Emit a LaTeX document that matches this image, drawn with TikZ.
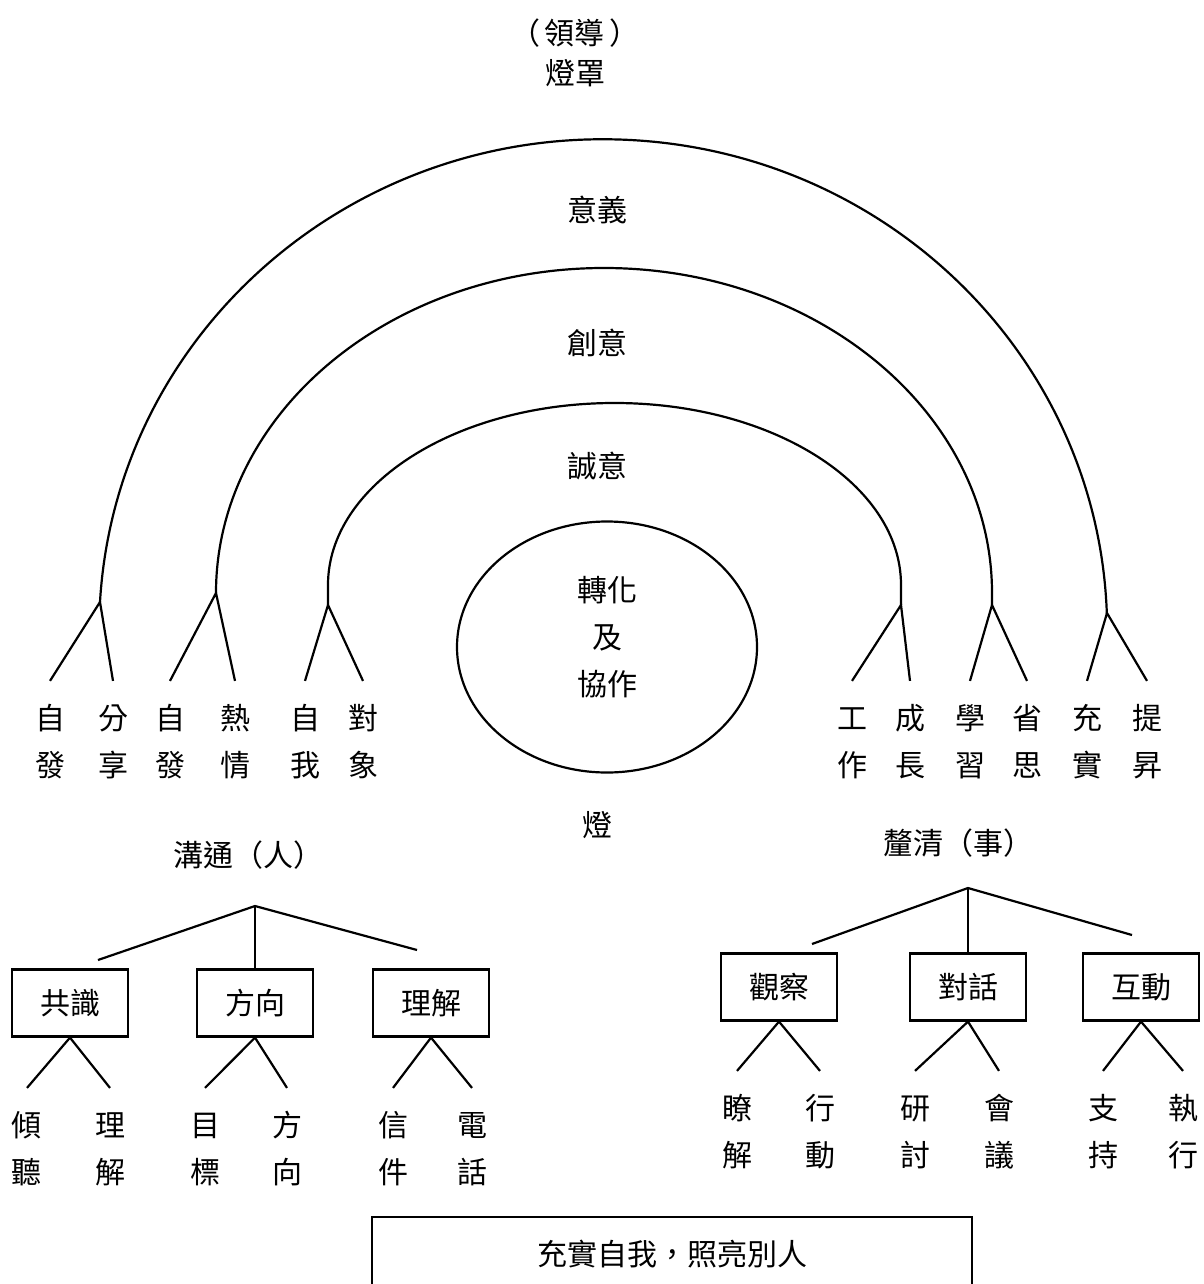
\documentclass[tikz,border=0pt]{standalone}
\usepackage{fontspec}
\setmainfont{Noto Sans CJK TC}
\usetikzlibrary{shapes.geometric}

\newcommand{\duo}[2]{\strut#1\\\strut#2}

\begin{document}
\begin{tikzpicture}[x=1pt,y=-1pt,
  font=\fontsize{30}{47}\selectfont,
  line width=2.2pt,
  word/.style={inner sep=0pt},
  chars/.style={align=center,inner xsep=0pt,inner ysep=14.5pt},
  tag/.style={rectangle,draw,minimum width=116pt,minimum height=67pt,inner sep=0pt}]
  \path[use as bounding box,fill=white] (0,0) rectangle (1203,1284);

  % lamp and its shade
  \node[word] (lead) at (575,33) {（\hspace{5pt}領導\hspace{5pt}）};
  \node[word] (shade) at (575,73) {燈罩};
  \node[word] (meaning) at (597,210) {意義};
  \node[word] (create) at (597,343) {創意};
  \node[word] (sincere) at (597,466) {誠意};
  \node[ellipse,draw,minimum width=300pt,minimum height=251pt] (lamp) at (607,647) {};
  \node[chars,inner ysep=0pt] (core) at (607,639) {\strut 轉化\\\strut 及\\\strut 協作};
  \node[word] (base) at (597,825) {燈};

  \coordinate (oL) at (100,602);
  \coordinate (mL) at (216,593);
  \coordinate (iL) at (328,605);
  \coordinate (iR) at (901,605);
  \coordinate (mR) at (992,605);
  \coordinate (oR) at (1107,613);

  \draw (oL) arc[start angle=176.7,end angle=1.98,x radius=504pt,y radius=491pt] -- (oR);
  \draw (mL) arc[start angle=180,end angle=0,x radius=388pt,y radius=325pt] -- (mR);
  \draw (iL) -- ++(0,-20) arc[start angle=180,end angle=0,x radius=286.5pt,y radius=182pt] -- (iR);

  \node[chars] (a1) at (50,743.5) {\duo{自}{發}};
  \node[chars] (a2) at (113,743.5) {\duo{分}{享}};
  \node[chars] (b1) at (170,743.5) {\duo{自}{發}};
  \node[chars] (b2) at (235,743.5) {\duo{熱}{情}};
  \node[chars] (c1) at (305,743.5) {\duo{自}{我}};
  \node[chars] (c2) at (363,743.5) {\duo{對}{象}};
  \node[chars] (d1) at (852,743.5) {\duo{工}{作}};
  \node[chars] (d2) at (910,743.5) {\duo{成}{長}};
  \node[chars] (e1) at (970,743.5) {\duo{學}{習}};
  \node[chars] (e2) at (1027,743.5) {\duo{省}{思}};
  \node[chars] (f1) at (1087,743.5) {\duo{充}{實}};
  \node[chars] (f2) at (1147,743.5) {\duo{提}{昇}};

  \draw (a1.north) -- (oL) -- (a2.north);
  \draw (b1.north) -- (mL) -- (b2.north);
  \draw (c1.north) -- (iL) -- (c2.north);
  \draw (d1.north) -- (iR) -- (d2.north);
  \draw (e1.north) -- (mR) -- (e2.north);
  \draw (f1.north) -- (oR) -- (f2.north);

  % people side
  \node[word] (talk) at (248,855) {溝通（人）};
  \coordinate (hubL) at (255,906);
  \coordinate (gl) at (98,960);
  \coordinate (gr) at (417,950);
  \node[tag] (g1) at (70,1003) {共識};
  \node[tag] (g2) at (255,1003) {方向};
  \node[tag] (g3) at (431,1003) {理解};
  \draw (gl) -- (hubL) -- (gr);
  \draw (hubL) -- (g2.north);

  \node[chars] (h1) at (27,1150.5) {\duo{傾}{聽}};
  \node[chars] (h2) at (110,1150.5) {\duo{理}{解}};
  \node[chars] (h3) at (205,1150.5) {\duo{目}{標}};
  \node[chars] (h4) at (287,1150.5) {\duo{方}{向}};
  \node[chars] (h5) at (393,1150.5) {\duo{信}{件}};
  \node[chars] (h6) at (472,1150.5) {\duo{電}{話}};
  \draw (h1.north) -- (g1.south) -- (h2.north);
  \draw (h3.north) -- (g2.south) -- (h4.north);
  \draw (h5.north) -- (g3.south) -- (h6.north);

  % matters side
  \node[word] (clarify) at (958,843) {釐清（事）};
  \coordinate (hubR) at (968,888);
  \coordinate (kl) at (812,944);
  \coordinate (kr) at (1132,935);
  \node[tag] (k1) at (779,987) {觀察};
  \node[tag] (k2) at (968,987) {對話};
  \node[tag] (k3) at (1141,987) {互動};
  \draw (kl) -- (hubR) -- (kr);
  \draw (hubR) -- (k2.north);

  \node[chars] (m1) at (737,1133.5) {\duo{瞭}{解}};
  \node[chars] (m2) at (820,1133.5) {\duo{行}{動}};
  \node[chars] (m3) at (915,1133.5) {\duo{研}{討}};
  \node[chars] (m4) at (999,1133.5) {\duo{會}{議}};
  \node[chars] (m5) at (1103,1133.5) {\duo{支}{持}};
  \node[chars] (m6) at (1183,1133.5) {\duo{執}{行}};
  \draw (m1.north) -- (k1.south) -- (m2.north);
  \draw (m3.north) -- (k2.south) -- (m4.north);
  \draw (m5.north) -- (k3.south) -- (m6.north);

  \node[draw,minimum width=600pt,minimum height=74pt] (motto) at (672,1254) {充實自我，照亮別人};
\end{tikzpicture}
\end{document}
